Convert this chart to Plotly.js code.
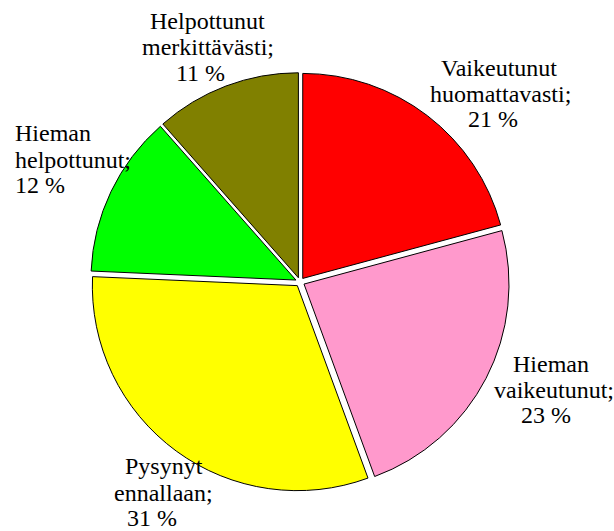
<!DOCTYPE html>
<html>
<head>
<meta charset="utf-8">
<script src="https://cdn.plot.ly/plotly-3.0.1.min.js"></script>
<style>html,body{margin:0;padding:0;background:#fff;}#chart{width:614px;height:531px;}</style>
</head>
<body>
<div id="chart"></div>
<script>
// Data (clockwise from 12 o'clock)
const categories = ['Vaikeutunut huomattavasti', 'Hieman vaikeutunut', 'Pysynyt ennallaan', 'Hieman helpottunut', 'Helpottunut merkittävästi'];
const values = [20.8, 23.6, 31.3, 12.8, 11.5];
const shownPercent = ['21 %', '23 %', '31 %', '12 %', '11 %'];
const colors = ['#FF0000', '#FF99CC', '#FFFF00', '#00FF00', '#808000'];

// Label layout (pixel centres of each text line) — layout only
const W = 614, H = 531;
const labelLines = [
  [[499, 68], [500, 94], [493, 119]],
  [[551, 364], [554, 390], [546, 415]],
  [[164, 466], [163, 493], [152, 518]],
  [[13, 133], [13, 160], [13, 185]],
  [[207, 21], [208, 47], [200, 73]]
];
const labelAnchor = ['center', 'center', 'center', 'left', 'center'];
const FONT = 'Liberation Serif, Times New Roman, serif';

const annotations = [];
categories.forEach((cat, i) => {
  const words = cat.split(' ');
  const lines = [words[0], words.slice(1).join(' ') + ';', shownPercent[i]];
  lines.forEach((t, j) => {
    const p = labelLines[i][j];
    annotations.push({
      text: t, showarrow: false, xref: 'paper', yref: 'paper',
      x: p[0] / W, y: 1 - p[1] / H, xanchor: labelAnchor[i], yanchor: 'middle',
      font: {family: FONT, size: 24, color: '#000'}
    });
  });
});

const cx = 300, cy = 282, r = 205, pull = 0.022;
const half = r * (1 + pull);
const trace = {
  type: 'pie',
  labels: categories,
  values: values,
  sort: false,
  direction: 'clockwise',
  rotation: 0,
  pull: values.map(() => pull),
  marker: {colors: colors, line: {color: '#000', width: 1}},
  textinfo: 'none',
  hoverinfo: 'none',
  showlegend: false,
  domain: {x: [(cx - half) / W, (cx + half) / W], y: [(H - cy - half) / H, (H - cy + half) / H]}
};

Plotly.newPlot('chart', [trace], {
  width: W, height: H,
  margin: {l: 0, r: 0, t: 0, b: 0},
  paper_bgcolor: '#fff', plot_bgcolor: '#fff',
  showlegend: false,
  font: {family: FONT},
  annotations: annotations
}, {displayModeBar: false, staticPlot: true});
</script>
</body>
</html>
